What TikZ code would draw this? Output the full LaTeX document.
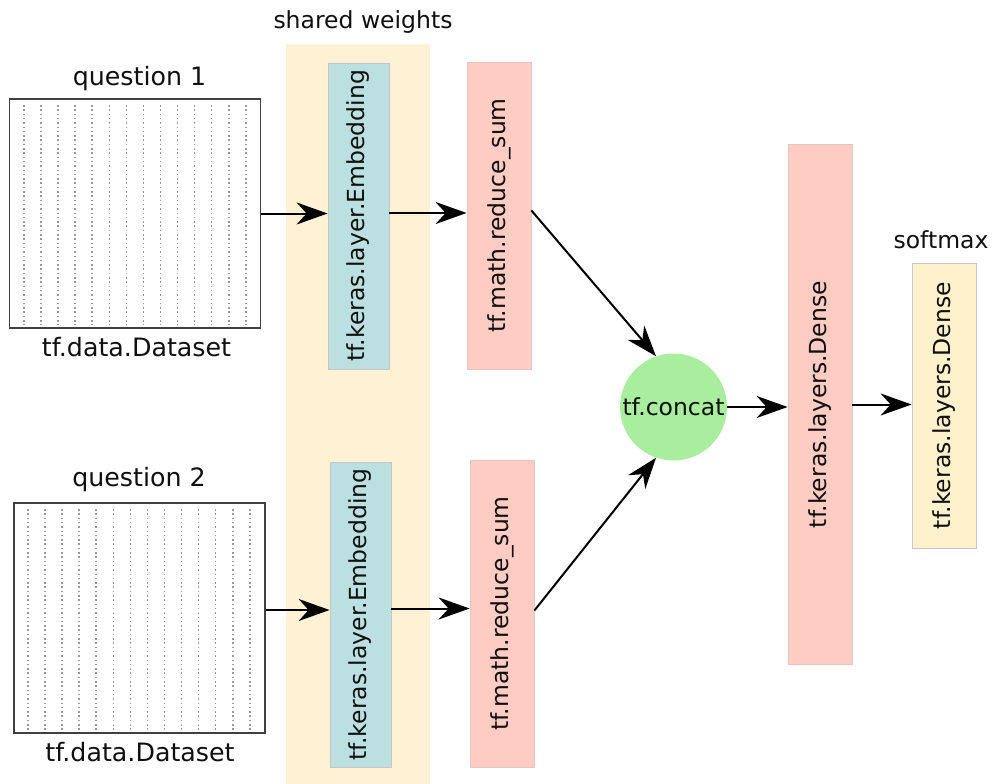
\documentclass[tikz,border=0pt]{standalone}
\usepackage{fontspec}
\setmainfont{DejaVu Sans}
\usetikzlibrary{arrows.meta,calc}
\definecolor{tealfill}{HTML}{BCE0E1}
\definecolor{pinkfill}{HTML}{FFCCC4}
\definecolor{yelfill}{HTML}{FFF2D4}
\definecolor{smfill}{HTML}{FFF1CC}
\definecolor{greenfill}{HTML}{A8EE9E}
\definecolor{boxline}{HTML}{C6C6C6}
\definecolor{pinkline}{HTML}{E8C4C0}
\definecolor{txt}{HTML}{101010}
\begin{document}
\begin{tikzpicture}[x=1pt,y=-1pt,
  every node/.style={font=\fontsize{23.5}{28}\selectfont, text=txt},
  lbl/.style={anchor=base, inner sep=0pt},
  biglbl/.style={anchor=base, inner sep=0pt, font=\fontsize{25.3}{30}\selectfont},
  dsbox/.style={draw=black!75, line width=1.3pt, fill=white, inner sep=0pt},
  tealbox/.style={draw=boxline, line width=0.8pt, fill=tealfill, inner sep=0pt},
  pinkbox/.style={draw=pinkline, line width=0.8pt, fill=pinkfill, inner sep=0pt},
  smbox/.style={draw=boxline, line width=0.8pt, fill=smfill, inner sep=0pt},
  vtext/.style={rotate=90, inner sep=0pt},
  arr/.style={draw=black, line width=2pt, -{Stealth[length=31pt,width=22pt,inset=10pt]}},
  dots/.style={draw=black!40, line width=1.6pt, dash pattern=on 1.5pt off 2.8pt}
]
\useasboundingbox (0,0) rectangle (993,784);
\fill[white] (0,0) rectangle (993,784);

% shared weights background
\node[fill=yelfill, inner sep=0pt, minimum width=144pt, minimum height=740pt] (shared) at (358,414.5) {};
\node[lbl] (sharedlbl) at (363,29) {shared weights};

% datasets
\node[dsbox, minimum width=251pt, minimum height=229pt] (ds1) at (135,213.5) {};
\node[dsbox, minimum width=251pt, minimum height=230pt] (ds2) at (139.5,618) {};
\foreach \i in {0,...,13}{
  \draw[dots] (24+17.06*\i,105) -- (24+17.06*\i,325);
  \draw[dots] (28+17.06*\i,509) -- (28+17.06*\i,730);
}
\node[biglbl] (q1) at (139.5,85) {question 1};
\node[biglbl] (d1) at (136.5,356) {tf.data.Dataset};
\node[biglbl] (q2) at (139,486) {question 2};
\node[biglbl] (d2) at (140,761) {tf.data.Dataset};

% embedding boxes
\node[tealbox, minimum width=61pt, minimum height=306pt] (emb1) at (358.5,216) {};
\node[vtext] at (emb1) {tf.keras.layer.Embedding};
\node[tealbox, minimum width=61pt, minimum height=305pt] (emb2) at (360.5,614.5) {};
\node[vtext] at (emb2) {tf.keras.layer.Embedding};

% reduce_sum boxes
\node[pinkbox, minimum width=64pt, minimum height=307pt] (red1) at (499,215.5) {};
\node[vtext] at (red1) {tf.math.reduce\_sum};
\node[pinkbox, minimum width=64pt, minimum height=307pt] (red2) at (502,613.5) {};
\node[vtext] at (red2) {tf.math.reduce\_sum};

% concat
\node[circle, fill=greenfill, minimum size=107pt, inner sep=0pt] (cc) at (673.5,407) {tf.concat};

% dense
\node[pinkbox, minimum width=64pt, minimum height=520pt] (dense) at (820,404.5) {};
\node[vtext] at (dense) {tf.keras.layers.Dense};

% softmax dense
\node[smbox, minimum width=64pt, minimum height=285pt] (sm) at (944,405.5) {};
\node[vtext] at (sm) {tf.keras.layers.Dense};
\node[lbl] (smlbl) at (941,248) {softmax};

% arrows
\draw[arr] (ds1.east) -- (ds1.east -| emb1.west);
\draw[arr] ([yshift=3pt]emb1.east) -- ([yshift=3pt]emb1.east -| red1.west);
\draw[arr] ([yshift=8pt]ds2.east) -- ([yshift=8pt]ds2.east -| emb2.west);
\draw[arr] ([yshift=6pt]emb2.east) -- ([yshift=6pt]emb2.east -| red2.west);
\draw[arr] ([yshift=5pt]red1.east) -- (cc.109);
\draw[arr] ([yshift=3pt]red2.east) -- (cc.251);
\draw[arr] (cc.east) -- (cc.east -| dense.west);
\draw[arr] (dense.east) -- (dense.east -| sm.west);
\end{tikzpicture}
\end{document}
